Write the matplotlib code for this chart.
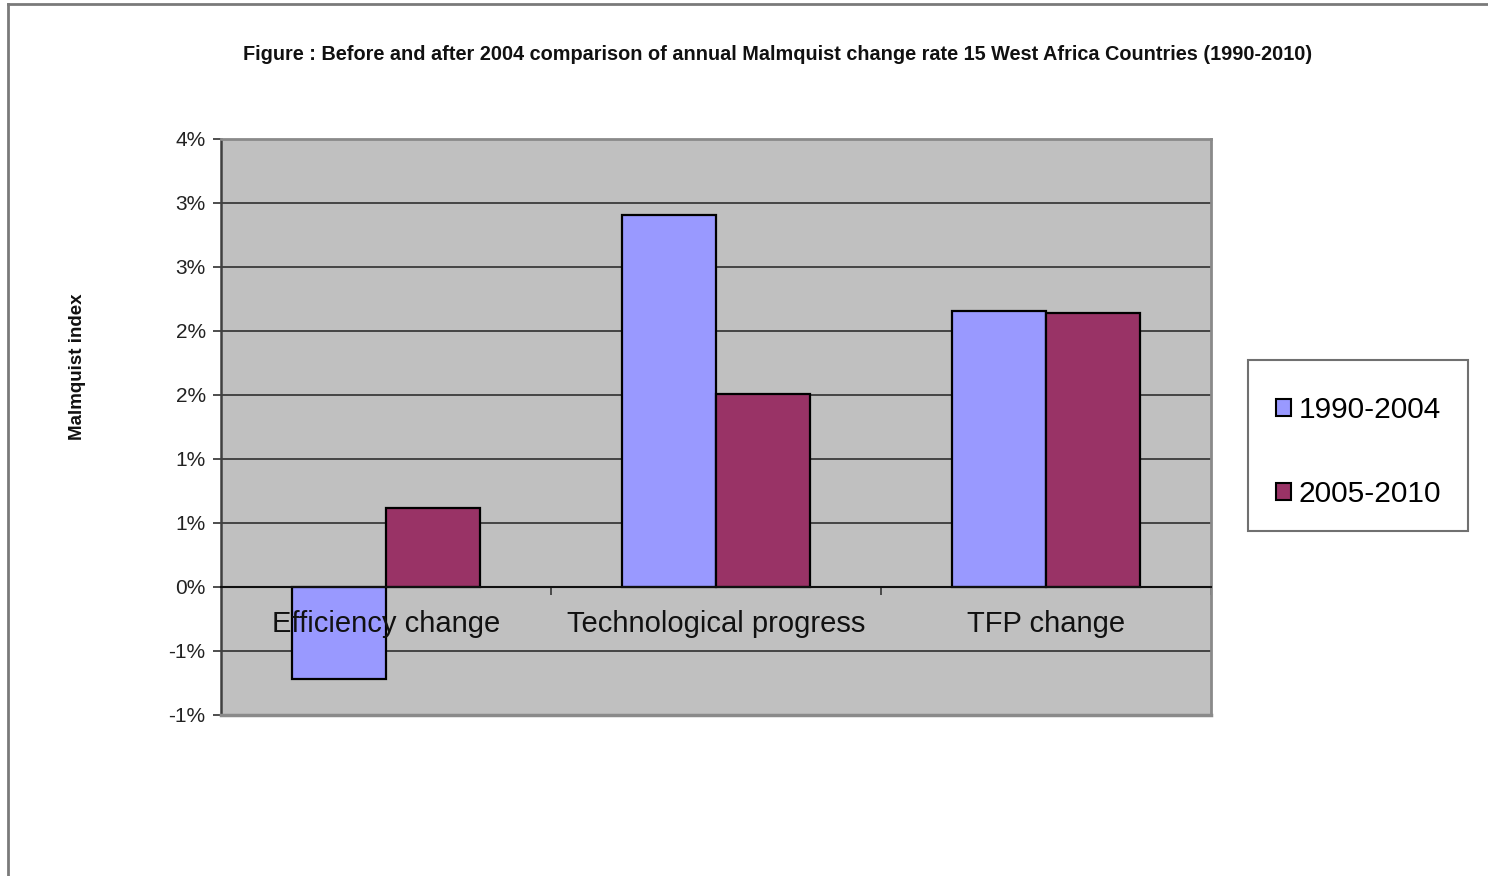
import matplotlib
matplotlib.use("Agg")
import matplotlib.pyplot as plt
from matplotlib.lines import Line2D
from matplotlib.patches import Patch, Rectangle
import numpy as np

categories = ["Efficiency change", "Technological progress", "TFP change"]
series_names = ["1990-2004", "2005-2010"]
vals_1990_2004 = [-0.72, 2.905, 2.16]
vals_2005_2010 = [0.62, 1.51, 2.14]
ytick_values = [-1.0, -0.5, 0.0, 0.5, 1.0, 1.5, 2.0, 2.5, 3.0, 3.5]
ytick_labels = ["-1%", "-1%", "0%", "1%", "1%", "2%", "2%", "3%", "3%", "4%"]
colors = ["#9999FF", "#993366"]

plt.rcParams['font.family'] = ['Liberation Sans', 'DejaVu Sans']

fig = plt.figure(figsize=(14.88, 8.76), dpi=100)
ax = fig.add_axes([221/1488, 1-715/876, (1211-221)/1488, (715-139)/876])

x = np.arange(len(categories))
w = 0.285
ax.bar(x - w/2, vals_1990_2004, w, color=colors[0], edgecolor="black", linewidth=1.6, zorder=2, label=series_names[0])
ax.bar(x + w/2, vals_2005_2010, w, color=colors[1], edgecolor="black", linewidth=1.6, zorder=2, label=series_names[1])

ax.set_xlim(-0.5, len(categories) - 0.5)
ax.set_ylim(ytick_values[0], ytick_values[-1])
ax.set_facecolor("#C0C0C0")
ax.set_axisbelow(True)
ax.yaxis.grid(True, color="#3a3a3a", linewidth=1.3)

ax.set_yticks(ytick_values)
ax.set_yticklabels(ytick_labels, fontsize=15, color="#222222")
ax.tick_params(axis="y", direction="out", length=6, width=1.3, color="#404040", pad=5)

# x ticks at category boundaries on the zero line
ax.spines["bottom"].set_position(("data", 0))
ax.spines["bottom"].set_color("#111111")
ax.spines["bottom"].set_linewidth(1.5)
ax.set_xticks(np.arange(len(categories)) + 0.5)
ax.set_xticklabels([])
ax.tick_params(axis="x", direction="out", length=6, width=1.3, color="#404040")

ax.spines["left"].set_color("#404040")
ax.spines["left"].set_linewidth(1.8)
for s in ["top", "right"]:
    ax.spines[s].set_color("#8a8a8a")
    ax.spines[s].set_linewidth(2)
ax.axhline(ax.get_ylim()[0], color="#8a8a8a", linewidth=2.5, zorder=3, clip_on=False)

for xi, lab in zip(x, categories):
    ax.text(xi, -0.29, lab, ha="center", va="center", fontsize=21, color="#111111", zorder=5)

fig.text(778/1488, 1-55/876,
         "Figure : Before and after 2004 comparison of annual Malmquist change rate 15 West Africa Countries (1990-2010)",
         ha="center", va="center", fontsize=14.3, fontweight="bold", color="#111111")
fig.text(77/1488, 1-367/876, "Malmquist index", rotation=90, ha="center", va="center",
         fontsize=13.5, fontweight="bold", color="#111111")

# legend frame
fig.add_artist(Rectangle((1248/1488, 1-531/876), 220/1488, 171/876, transform=fig.transFigure,
                         facecolor="white", edgecolor="#707070", linewidth=1.5, zorder=1))
handles = [Patch(facecolor=colors[0], edgecolor="black", linewidth=1.5),
           Patch(facecolor=colors[1], edgecolor="black", linewidth=1.5)]
leg = fig.legend(handles, series_names, loc="upper left",
                 bbox_to_anchor=(1276/1488, 1-396/876), borderaxespad=0,
                 fontsize=21.5, frameon=False, handlelength=0.5,
                 handleheight=0.5, handletextpad=0.25, labelspacing=1.87, borderpad=0)
leg.set_zorder(2)

# outer frame
fig.add_artist(Line2D([8/1488, 8/1488], [0, 1-4/876], transform=fig.transFigure, color="#7a7a7a", linewidth=2))
fig.add_artist(Line2D([8/1488, 1], [1-4/876, 1-4/876], transform=fig.transFigure, color="#7a7a7a", linewidth=2))

fig.savefig("out.png", dpi=100)
